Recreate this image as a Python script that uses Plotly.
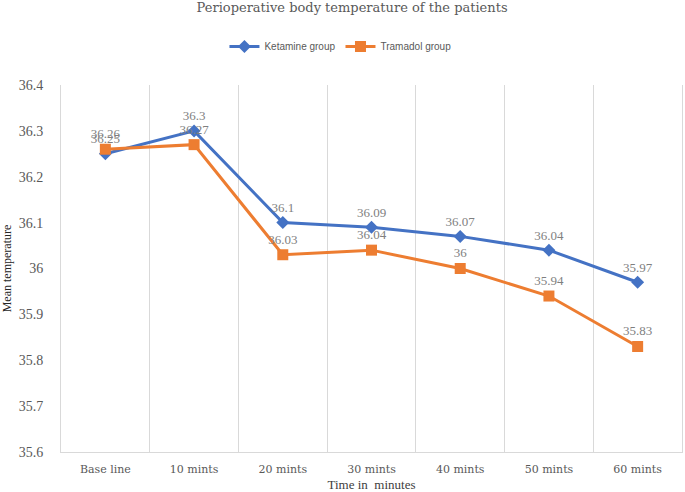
import plotly.graph_objects as go

categories = ["Base line", "10 mints", "20 mints", "30 mints", "40 mints", "50 mints", "60 mints"]
ketamine = [36.25, 36.3, 36.1, 36.09, 36.07, 36.04, 35.97]
tramadol = [36.26, 36.27, 36.03, 36.04, 36, 35.94, 35.83]
y_ticks = [35.6, 35.7, 35.8, 35.9, 36, 36.1, 36.2, 36.3, 36.4]

serif = "Liberation Serif, Times New Roman, serif"
wide_serif = "DejaVu Serif, serif"
label_font = dict(family=serif, size=13, color="#7f7f7f")

fig = go.Figure()
fig.add_trace(go.Scatter(
    x=categories, y=ketamine, name="Ketamine group", mode="lines+markers+text",
    line=dict(color="#4472C4", width=3), marker=dict(symbol="diamond", size=10, color="#4472C4"),
    text=[str(v) for v in ketamine], textposition="top center", textfont=label_font,
))
fig.add_trace(go.Scatter(
    x=categories, y=tramadol, name="Tramadol group", mode="lines+markers+text",
    line=dict(color="#ED7D31", width=3), marker=dict(symbol="square", size=11, color="#ED7D31"),
    text=[str(v) for v in tramadol], textposition="top center", textfont=label_font,
))

fig.update_layout(
    width=685, height=492,
    margin=dict(l=59, r=2, t=85, b=38),
    paper_bgcolor="white", plot_bgcolor="white",
    title=dict(text="Perioperative body temperature of the patients", x=0.514, xanchor="center",
               y=0.995, yanchor="top", font=dict(family=wide_serif, size=13, color="#595959")),
    legend=dict(orientation="h", x=0.45, xanchor="center", y=1.105, yanchor="middle",
                font=dict(family="Liberation Sans, Arial, sans-serif", size=10, color="#595959"),
                itemwidth=30),
    showlegend=True,
)
fig.update_xaxes(
    type="category", tickson="boundaries", showgrid=True, gridcolor="#d9d9d9", gridwidth=1,
    showline=True, linecolor="#d9d9d9", mirror=False, ticks="", range=[-0.5, 6.5],
    ticklabelstandoff=7,
    tickfont=dict(family=wide_serif, size=11, color="#595959"),
    title=dict(text="Time in  minutes", font=dict(family=serif, size=13, color="#404040"), standoff=5),
)
fig.update_yaxes(
    range=[35.6, 36.4], tickvals=y_ticks, ticktext=[f"{v:g}" for v in y_ticks],
    showgrid=False, zeroline=False, showline=True, linecolor="#d9d9d9", mirror=True, ticks="",
    ticklabelstandoff=14,
    tickfont=dict(family=serif, size=14, color="#595959"),
    title=dict(text="Mean temperature", font=dict(family=serif, size=12, color="#262626"), standoff=8),
)

fig.write_html("out.html", config={"displayModeBar": False},
               post_script="document.body.style.margin='0';")
